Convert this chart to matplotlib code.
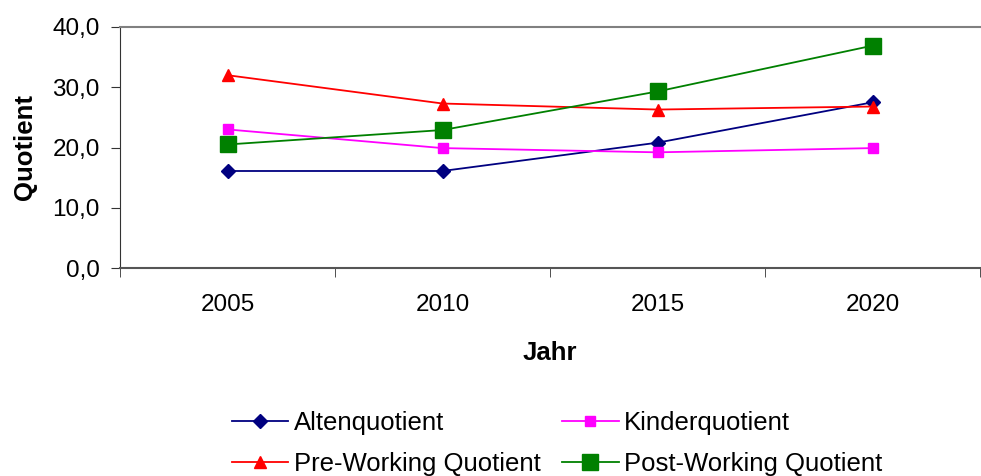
import matplotlib
matplotlib.use("Agg")
import matplotlib.pyplot as plt

plt.rcParams['font.family'] = ['Liberation Sans', 'DejaVu Sans']

jahre = ['2005', '2010', '2015', '2020']
alten = [16.1, 16.1, 20.8, 27.5]
kinder = [23.0, 19.9, 19.2, 19.9]
pre_working = [32.0, 27.3, 26.3, 26.8]
post_working = [20.5, 22.9, 29.3, 36.9]

fig = plt.figure(figsize=(9.81, 4.76), dpi=100)
ax = fig.add_axes([120/981, 1 - 268/476, 860/981, 241/476])

x = list(range(len(jahre)))
l1, = ax.plot(x, alten, color='#000080', marker='D', markersize=7, lw=1.3, label='Altenquotient')
l2, = ax.plot(x, kinder, color='#ff00ff', marker='s', markersize=7, lw=1.3, label='Kinderquotient')
l3, = ax.plot(x, pre_working, color='#ff0000', marker='^', markersize=9, lw=1.3, label='Pre-Working Quotient')
l4, = ax.plot(x, post_working, color='#008000', marker='s', markersize=12, lw=1.3, label='Post-Working Quotient')

ax.set_xlim(-0.5, len(jahre) - 0.5)
ax.set_ylim(0, 40)
ax.set_yticks([0, 10, 20, 30, 40])
ax.set_yticklabels(['0,0', '10,0', '20,0', '30,0', '40,0'], fontsize=17.5)
ax.set_xticks(x)
ax.set_xticklabels(jahre, fontsize=17.5)
ax.tick_params(axis='x', length=0, pad=19)
ax.set_xticks([i - 0.5 for i in range(len(jahre) + 1)], minor=True)
ax.tick_params(axis='x', which='minor', length=6.5, color='#333333', direction='out')
ax.tick_params(axis='y', length=6.5, color='#333333', direction='out', pad=8)

ax.spines['right'].set_visible(False)
ax.spines['top'].set_color('#808080')
ax.spines['top'].set_linewidth(1.5)
ax.spines['left'].set_color('#333333')
ax.spines['bottom'].set_color('#555555')
ax.spines['bottom'].set_linewidth(1.5)

ax.set_xlabel('Jahr', fontsize=18.5, fontweight='bold', labelpad=18)
ax.set_ylabel('Quotient', fontsize=18.5, fontweight='bold', labelpad=11)

# row-major order like the original legend
fig.legend([l1, l3, l2, l4], [l1.get_label(), l3.get_label(), l2.get_label(), l4.get_label()],
           loc='center', bbox_to_anchor=(557/981, 1 - 443.5/476), ncol=2, frameon=False,
           fontsize=18.5, handlelength=2.2, columnspacing=0.85, labelspacing=0.65, handletextpad=0.2)

fig.savefig('out.png', dpi=100)
